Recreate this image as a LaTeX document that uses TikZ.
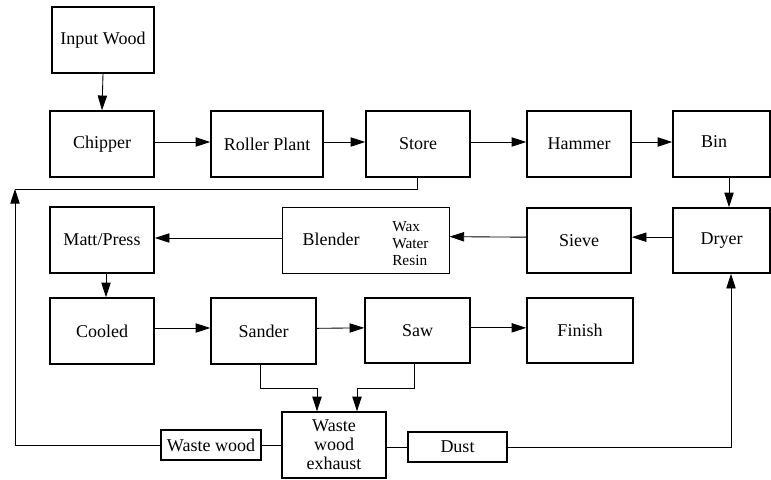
\documentclass[tikz,border=0pt]{standalone}
\usepackage{fontspec}
\setmainfont{Liberation Serif}
\newfontfamily\tms{Liberation Serif}
\usetikzlibrary{arrows.meta}
\begin{document}
\begin{tikzpicture}[x=0.75pt,y=-0.75pt,
  blk/.style={draw, line width=1.15pt, inner sep=0pt, font=\tms\fontsize{13.5}{15}\selectfont},
  thinblk/.style={blk, line width=0.75pt},
  sz/.style 2 args={minimum width=#1*0.75pt, minimum height=#2*0.75pt},
  ln/.style={line width=0.65pt},
  arr/.style={ln, -{Triangle[length=11pt,width=7pt]}},
  txt/.style={inner sep=0pt, font=\tms\fontsize{13.5}{15}\selectfont},
  small/.style={inner sep=0pt, align=left, font=\tms\fontsize{11.5}{12.75}\selectfont}]
\useasboundingbox (0,0) rectangle (771,479);
% row 1
\node[blk, sz={102}{66}] (inw) at (103,40) {Input Wood};
\node[blk, sz={104}{66}] (chip) at (102,144) {Chipper};
\node[blk, sz={112}{66}] (roll) at (267,144) {Roller Plant};
\node[blk, sz={104}{66}] (store) at (418,144) {Store};
\node[blk, sz={104}{66}] (ham) at (579,144) {Hammer};
\node[blk, sz={97}{66}] (bin) at (721.5,144) {};
\node[txt] (bint) at (714,142) {Bin};
% row 2
\node[blk, sz={97}{65}] (dry) at (721.5,240.5) {Dryer};
\node[blk, sz={104}{65}] (sieve) at (579,240.5) {Sieve};
\node[thinblk, sz={167}{66}] (blend) at (365.5,240) {};
\node[txt] (blendt) at (331,239) {Blender};
\node[small, anchor=west] (wax) at (392,244) {Wax\\Water\\Resin};
\node[blk, sz={104}{66}] (matt) at (102,240) {Matt/Press};
% row 3
\node[blk, sz={104}{66}] (cool) at (102,331) {Cooled};
\node[blk, sz={105}{66}] (sand) at (263.5,331) {Sander};
\node[blk, sz={105}{65}] (saw) at (417.5,330.5) {Saw};
\node[blk, sz={106}{65}] (fin) at (580,330.5) {Finish};
% row 4
\node[blk, line width=1pt, sz={104}{66}, align=center, font=\tms\fontsize{13.5}{14.25}\selectfont] (wwe) at (334,445) {Waste\\wood\\exhaust};
\node[blk, line width=0.9pt, sz={100}{30}] (ww) at (211,445) {Waste wood};
\node[blk, line width=0.9pt, sz={99}{30}] (dust) at (457.5,447) {Dust};
% helper coordinates
\coordinate (fbL) at (15,189);
\coordinate (dj) at (731,447);
\coordinate (bj) at (729,177);
\coordinate (sj) at (260,388);
\coordinate (sa) at (317,412);
\coordinate (wj) at (414,388);
\coordinate (wa) at (357,412);
% connectors
\draw[arr] (inw.south) -- (chip.north);
\draw[arr] ([yshift=1.5pt]chip.east) -- ([yshift=1.5pt]roll.west);
\draw[arr] ([yshift=1.5pt]roll.east) -- ([yshift=1.5pt]store.west);
\draw[arr] ([yshift=1.5pt]store.east) -- ([yshift=1.5pt]ham.west);
\draw[arr] ([yshift=1.5pt]ham.east) -- ([yshift=1.5pt]bin.west);
\draw[arr] (bj) -- (bj |- dry.north);
\draw[arr] ([yshift=2.5pt]dry.west) -- ([yshift=2.5pt]sieve.east);
\draw[arr] ([yshift=2.5pt]sieve.west) -- ([yshift=2.5pt]blend.east);
\draw[arr] ([yshift=1.5pt]blend.west) -- ([yshift=1.5pt]matt.east);
\draw[arr] ([xshift=3pt]matt.south) -- ([xshift=3pt]cool.north);
\draw[arr] ([yshift=2.25pt]cool.east) -- ([yshift=2.25pt]sand.west);
\draw[arr] ([yshift=2pt]sand.east) -- ([yshift=2pt]saw.west);
\draw[arr] ([yshift=2pt]saw.east) -- ([yshift=2pt]fin.west);
\draw[ln] ([xshift=-0.75pt]store.south) |- (fbL);
\draw[arr] (ww.west) -| (fbL);
\draw[ln] (wwe.west) -- (ww.east);
\draw[ln] (wwe.east |- dust.west) -- (dust.west);
\draw[arr] (dust.east) -| (dj |- dry.south);
\draw[ln] (sand.south -| sj) |- (sj -| sa);
\draw[arr] (sj -| sa) -- (sa |- wwe.north);
\draw[ln] (saw.south -| wj) |- (wj -| wa);
\draw[arr] (wj -| wa) -- (wa |- wwe.north);
\end{tikzpicture}
\end{document}
